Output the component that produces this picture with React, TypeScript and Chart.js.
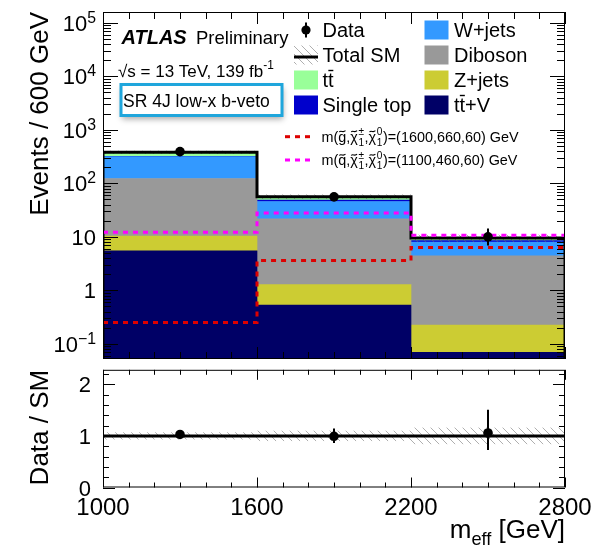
import React, { useEffect, useRef } from 'react';
import { Chart, registerables } from 'chart.js';

Chart.register(...registerables);

const FONT = '"Liberation Sans", Arial, Helvetica, sans-serif';

// m_eff binning (GeV)
const binEdges = [1000, 1600, 2200, 2800];
const binCenters = [1300, 1900, 2500];

// Background yields per bin, bottom of the stack first
const ttVYield = [5.5, 0.53, 0.069];
const zJetsYield = [4.8, 0.75, 0.156];
const dibosonYield = [113, 20.4, 4.2];
const wJetsYield = [192, 24.1, 3.6];
const singleTopYield = [6, 2.7, 0.45];
const ttbarYield = [60, 8, 1.0];

// Relative uncertainty on the total SM prediction
const totalRelUnc = [0.07, 0.1, 0.16];

// Observed events with asymmetric Poisson errors
const dataCounts = [392, 56, 10];
const dataErrLow = [19.3, 7.4, 3.1];
const dataErrHigh = [20.3, 8.5, 4.27];

// Signal benchmark yields
const sigGluinoYield = [0.25, 3.6, 6.3];
const sigSquarkYield = [12.2, 28, 10.7];

// Axis ticks
const yDecades = [-1, 0, 1, 2, 3, 4, 5];
const xTickValues = [1000, 1600, 2200, 2800];
const ratioTickValues = [0, 1, 2];

const bkgNames = ['tt\u0304+V', 'Z+jets', 'Diboson', 'W+jets', 'Single top', 'tt\u0304'];
const bkgColors = ['#000066', '#cccc33', '#999999', '#3399ff', '#0000cc', '#99ff99'];
const bkgYields = [ttVYield, zJetsYield, dibosonYield, wJetsYield, singleTopYield, ttbarYield];

const totalSM = binCenters.map((_, i) => bkgYields.reduce((s, arr) => s + arr[i], 0));

// Layout
const W = 594;
const MAIN_H = 365;
const RATIO_H = 180;
const PLOT_L = 103;
const PLOT_R = 565;
const MAIN_T = 12;
const MAIN_B = 359;
const RATIO_T = 369;
const RATIO_B = 487.5;

const Y_MIN = 0.052;
const Y_MAX = 1.6e5;
const R_MIN = 0;
const R_MAX = 2.28;

const LINE_COUNT = 4; // data, two signals, total SM — drawn above the bars
const HATCH_COLOR = 'rgba(110,110,110,0.55)';

type Part = {
  t?: string;
  sup?: string;
  sub?: string;
  scale?: number;
  rise?: number;
  bold?: boolean;
  italic?: boolean;
  accent?: 'bar' | 'tilde';
};

function fontFor(size: number, p: Part) {
  return `${p.italic ? 'italic ' : ''}${p.bold ? 'bold ' : ''}${size}px ${FONT}`;
}

function partWidth(ctx: CanvasRenderingContext2D, p: Part, base: number) {
  if (p.sup !== undefined || p.sub !== undefined) {
    ctx.font = fontFor(base * 0.7, p);
    return Math.max(ctx.measureText(p.sup || '').width, ctx.measureText(p.sub || '').width) + base * 0.08;
  }
  ctx.font = fontFor(base * (p.scale || 1), p);
  return ctx.measureText(p.t || '').width;
}

function drawRich(
  ctx: CanvasRenderingContext2D,
  parts: Part[],
  x: number,
  y: number,
  base: number,
  align: 'left' | 'right' | 'center' = 'left'
) {
  const widths = parts.map((p) => partWidth(ctx, p, base));
  const total = widths.reduce((a, b) => a + b, 0);
  let cx = align === 'right' ? x - total : align === 'center' ? x - total / 2 : x;
  ctx.textAlign = 'left';
  ctx.textBaseline = 'alphabetic';
  parts.forEach((p, i) => {
    if (p.sup !== undefined || p.sub !== undefined) {
      ctx.font = fontFor(base * 0.7, p);
      if (p.sup) ctx.fillText(p.sup, cx + base * 0.04, y - base * 0.42);
      if (p.sub) ctx.fillText(p.sub, cx + base * 0.04, y + base * 0.28);
    } else {
      const size = base * (p.scale || 1);
      const yy = y - (p.rise || 0) * base;
      ctx.font = fontFor(size, p);
      ctx.fillText(p.t || '', cx, yy);
      const w = widths[i];
      if (p.accent === 'bar') {
        ctx.save();
        ctx.strokeStyle = ctx.fillStyle as string;
        ctx.lineWidth = size * 0.07;
        ctx.beginPath();
        ctx.moveTo(cx + w * 0.05, yy - size * 0.8);
        ctx.lineTo(cx + w * 0.95, yy - size * 0.8);
        ctx.stroke();
        ctx.restore();
      } else if (p.accent === 'tilde') {
        ctx.save();
        ctx.strokeStyle = ctx.fillStyle as string;
        ctx.lineWidth = size * 0.07;
        const yc = yy - size * 0.7;
        ctx.beginPath();
        ctx.moveTo(cx + w * 0.12, yc + size * 0.04);
        ctx.bezierCurveTo(cx + w * 0.35, yc - size * 0.1, cx + w * 0.6, yc + size * 0.12, cx + w * 0.9, yc - size * 0.05);
        ctx.stroke();
        ctx.restore();
      }
    }
    cx += widths[i];
  });
  return total;
}

function nameParts(name: string): Part[] {
  if (name.startsWith('tt\u0304')) {
    const rest = name.slice(3);
    const parts: Part[] = [{ t: 't' }, { t: 't', accent: 'bar' }];
    if (rest) parts.push({ t: rest });
    return parts;
  }
  return [{ t: name }];
}

function makeHatch(ctx: CanvasRenderingContext2D, color: string) {
  const c = document.createElement('canvas');
  c.width = 8;
  c.height = 8;
  const g = c.getContext('2d')!;
  g.strokeStyle = color;
  g.lineWidth = 1;
  g.beginPath();
  g.moveTo(-1, -1);
  g.lineTo(9, 9);
  g.moveTo(-1, 7);
  g.lineTo(1, 9);
  g.moveTo(7, -1);
  g.lineTo(9, 1);
  g.stroke();
  return ctx.createPattern(c, 'repeat')!;
}

// Histogram outline: flat across each bin, vertical steps at the inner edges
function histOutline(vals: number[], floor?: number) {
  const pts: { x: number; y: number }[] = [];
  const last = binEdges.length - 1;
  if (floor !== undefined) pts.push({ x: binEdges[0], y: floor });
  pts.push({ x: binEdges[0], y: vals[0] });
  for (let i = 1; i < last; i++) {
    pts.push({ x: binEdges[i], y: vals[i - 1] });
    pts.push({ x: binEdges[i], y: vals[i] });
  }
  pts.push({ x: binEdges[last], y: vals[vals.length - 1] });
  if (floor !== undefined) pts.push({ x: binEdges[last], y: floor });
  return pts;
}

function drawXTicks(ctx: CanvasRenderingContext2D, x: any, area: any, majorLen: number, minorLen: number) {
  ctx.beginPath();
  for (let v = binEdges[0]; v <= binEdges[binEdges.length - 1]; v += 100) {
    const px = Math.round(x.getPixelForValue(v)) + 0.5;
    const len = xTickValues.includes(v) ? majorLen : minorLen;
    ctx.moveTo(px, area.bottom);
    ctx.lineTo(px, area.bottom - len);
    ctx.moveTo(px, area.top);
    ctx.lineTo(px, area.top + len);
  }
  ctx.stroke();
}

function drawErrorBars(ctx: CanvasRenderingContext2D, x: any, y: any, vals: number[], lo: number[], hi: number[]) {
  ctx.save();
  ctx.strokeStyle = '#000';
  ctx.lineWidth = 2;
  ctx.beginPath();
  vals.forEach((v, i) => {
    const px = x.getPixelForValue(binCenters[i]);
    ctx.moveTo(px, y.getPixelForValue(v + hi[i]));
    ctx.lineTo(px, y.getPixelForValue(v - lo[i]));
  });
  ctx.stroke();
  ctx.restore();
}

const mainDecor = {
  id: 'mainDecor',
  afterDatasetDraw(chart: any, args: any) {
    if (args.index !== LINE_COUNT) return;
    const { ctx, scales } = chart;
    const { x, y } = scales;
    ctx.save();
    ctx.fillStyle = makeHatch(ctx, HATCH_COLOR);
    totalSM.forEach((t: number, i: number) => {
      const x0 = x.getPixelForValue(binEdges[i]);
      const x1 = x.getPixelForValue(binEdges[i + 1]);
      const y0 = y.getPixelForValue(t * (1 + totalRelUnc[i]));
      const y1 = y.getPixelForValue(t * (1 - totalRelUnc[i]));
      ctx.fillRect(x0, y0, x1 - x0, y1 - y0);
    });
    ctx.restore();
  },
  afterDraw(chart: any) {
    const { ctx, chartArea: area, scales } = chart;
    const { x, y } = scales;
    ctx.save();

    drawErrorBars(ctx, x, y, dataCounts, dataErrLow, dataErrHigh);

    // frame and inward ticks
    ctx.strokeStyle = '#000';
    ctx.lineWidth = 1;
    ctx.strokeRect(area.left + 0.5, area.top + 0.5, area.right - area.left - 1, area.bottom - area.top - 1);
    drawXTicks(ctx, x, area, 12, 7);
    ctx.beginPath();
    for (let e = -2; e <= 5; e++) {
      for (let m = 1; m <= 9; m++) {
        const v = m * Math.pow(10, e);
        if (v < Y_MIN || v > Y_MAX) continue;
        const py = Math.round(y.getPixelForValue(v)) + 0.5;
        const len = m === 1 ? 15 : 8;
        ctx.moveTo(area.left, py);
        ctx.lineTo(area.left + len, py);
        ctx.moveTo(area.right, py);
        ctx.lineTo(area.right - len, py);
      }
    }
    ctx.stroke();

    // y tick labels
    ctx.fillStyle = '#000';
    yDecades.forEach((e) => {
      const py = y.getPixelForValue(Math.pow(10, e));
      const parts: Part[] =
        e === 0
          ? [{ t: '1' }]
          : e === 1
          ? [{ t: '10' }]
          : [{ t: '10' }, { t: e < 0 ? '\u2212' + -e : String(e), scale: 0.72, rise: 0.36 }];
      drawRich(ctx, parts, 96, py + 8, 22, 'right');
    });

    // y title
    ctx.save();
    ctx.translate(48, area.top);
    ctx.rotate(-Math.PI / 2);
    ctx.font = `26px ${FONT}`;
    ctx.textAlign = 'right';
    ctx.textBaseline = 'alphabetic';
    ctx.fillText('Events / 600 GeV', 0, 0);
    ctx.restore();

    // experiment label
    ctx.font = `italic bold 20px ${FONT}`;
    ctx.textAlign = 'left';
    ctx.fillText('ATLAS', 121.5, 44);
    ctx.font = `18.5px ${FONT}`;
    ctx.fillText('Preliminary', 196, 44);
    drawRich(ctx, [{ t: '\u221As = 13 TeV, 139 fb' }, { t: '-1', scale: 0.7, rise: 0.42 }], 118, 76.5, 17);

    // region box
    ctx.save();
    ctx.shadowColor = 'rgba(0,0,0,0.35)';
    ctx.shadowBlur = 6;
    ctx.shadowOffsetX = 1;
    ctx.shadowOffsetY = 3;
    ctx.fillStyle = '#fff';
    ctx.fillRect(121, 84.5, 161, 31);
    ctx.restore();
    ctx.strokeStyle = '#1fa6dc';
    ctx.lineWidth = 3;
    ctx.strokeRect(121, 84.5, 161, 31);
    ctx.fillStyle = '#000';
    ctx.font = `17.5px ${FONT}`;
    ctx.fillText('SR 4J low-x b-veto', 123, 106.5);

    // legend
    const rows = [36.5, 61.5, 86.5, 111.5];
    const col1Box = 294;
    const col1Text = 322.5;
    const col2Box = 424.5;
    const col2Text = 454;
    const boxW = 24;
    const boxH = 19;
    // Data marker
    ctx.strokeStyle = '#000';
    ctx.lineWidth = 2;
    ctx.beginPath();
    ctx.moveTo(col1Box + boxW / 2, rows[0] - 14);
    ctx.lineTo(col1Box + boxW / 2, rows[0] + 1);
    ctx.stroke();
    ctx.beginPath();
    ctx.arc(col1Box + boxW / 2, rows[0] - 6.5, 4.6, 0, Math.PI * 2);
    ctx.fill();
    drawRich(ctx, [{ t: 'Data' }], col1Text, rows[0], 20);
    // Total SM
    ctx.fillStyle = makeHatch(ctx, HATCH_COLOR);
    ctx.fillRect(col1Box, rows[1] - 16, boxW, boxH);
    ctx.strokeStyle = '#000';
    ctx.lineWidth = 3;
    ctx.beginPath();
    ctx.moveTo(col1Box, rows[1] - 4.5);
    ctx.lineTo(col1Box + boxW, rows[1] - 4.5);
    ctx.stroke();
    ctx.fillStyle = '#000';
    drawRich(ctx, [{ t: 'Total SM' }], col1Text, rows[1], 20);
    // stacked backgrounds
    const legendSlots = [
      { idx: 5, box: col1Box, text: col1Text, row: 2 },
      { idx: 4, box: col1Box, text: col1Text, row: 3 },
      { idx: 3, box: col2Box, text: col2Text, row: 0 },
      { idx: 2, box: col2Box, text: col2Text, row: 1 },
      { idx: 1, box: col2Box, text: col2Text, row: 2 },
      { idx: 0, box: col2Box, text: col2Text, row: 3 },
    ];
    legendSlots.forEach((s) => {
      ctx.fillStyle = bkgColors[s.idx];
      ctx.fillRect(s.box, rows[s.row] - 16, boxW, boxH);
      ctx.fillStyle = '#000';
      drawRich(ctx, nameParts(bkgNames[s.idx]), s.text, rows[s.row], 20);
    });
    // signal entries
    const sigRows = [
      { color: '#dd0000', y: 136.7, base: 141.5, sparticle: 'g', masses: '=(1600,660,60) GeV' },
      { color: '#ff00ff', y: 160, base: 165, sparticle: 'q', masses: '=(1100,460,60) GeV' },
    ];
    sigRows.forEach((r) => {
      ctx.strokeStyle = r.color;
      ctx.lineWidth = 3;
      ctx.setLineDash([5, 5]);
      ctx.beginPath();
      ctx.moveTo(285, r.y);
      ctx.lineTo(312, r.y);
      ctx.stroke();
      ctx.setLineDash([]);
      ctx.fillStyle = '#000';
      drawRich(
        ctx,
        [
          { t: 'm(' },
          { t: r.sparticle, accent: 'tilde' },
          { t: ',' },
          { t: '\u03C7', accent: 'tilde' },
          { sup: '\u00B1', sub: '1' },
          { t: ',' },
          { t: '\u03C7', accent: 'tilde' },
          { sup: '0', sub: '1' },
          { t: ')' + r.masses },
        ],
        321.5,
        r.base,
        14.4
      );
    });

    ctx.restore();
  },
};

const ratioDecor = {
  id: 'ratioDecor',
  beforeDatasetsDraw(chart: any) {
    const { ctx, scales } = chart;
    const { x, y } = scales;
    ctx.save();
    ctx.fillStyle = makeHatch(ctx, HATCH_COLOR);
    totalRelUnc.forEach((u, i) => {
      const x0 = x.getPixelForValue(binEdges[i]);
      const x1 = x.getPixelForValue(binEdges[i + 1]);
      const y0 = y.getPixelForValue(1 + u);
      const y1 = y.getPixelForValue(1 - u);
      ctx.fillRect(x0, y0, x1 - x0, y1 - y0);
    });
    ctx.restore();
  },
  afterDraw(chart: any) {
    const { ctx, chartArea: area, scales } = chart;
    const { x, y } = scales;
    const off = MAIN_H;
    ctx.save();

    const ratio = dataCounts.map((d, i) => d / totalSM[i]);
    drawErrorBars(
      ctx,
      x,
      y,
      ratio,
      dataErrLow.map((e, i) => e / totalSM[i]),
      dataErrHigh.map((e, i) => e / totalSM[i])
    );

    ctx.strokeStyle = '#000';
    ctx.lineWidth = 1;
    ctx.strokeRect(area.left + 0.5, area.top + 0.5, area.right - area.left - 1, area.bottom - area.top - 1);
    drawXTicks(ctx, x, area, 10, 5);
    ctx.beginPath();
    for (let i = 0; i * 0.2 <= R_MAX + 1e-9; i++) {
      const v = i * 0.2;
      const py = Math.round(y.getPixelForValue(v)) + 0.5;
      const len = i % 5 === 0 ? 12 : 6;
      ctx.moveTo(area.left, py);
      ctx.lineTo(area.left + len, py);
      ctx.moveTo(area.right, py);
      ctx.lineTo(area.right - len, py);
    }
    ctx.stroke();

    ctx.fillStyle = '#000';
    ratioTickValues.forEach((v) => {
      drawRich(ctx, [{ t: String(v) }], 91, y.getPixelForValue(v) + 8, 22, 'right');
    });
    xTickValues.forEach((v) => {
      drawRich(ctx, [{ t: String(v) }], x.getPixelForValue(v), 515 - off, 24, 'center');
    });

    ctx.save();
    ctx.translate(48, area.top);
    ctx.rotate(-Math.PI / 2);
    ctx.font = `26px ${FONT}`;
    ctx.textAlign = 'right';
    ctx.textBaseline = 'alphabetic';
    ctx.fillText('Data / SM', 0, 0);
    ctx.restore();

    drawRich(ctx, [{ t: 'm' }, { t: 'eff', scale: 0.7, rise: -0.25 }, { t: ' [GeV]' }], area.right, 538 - off, 26, 'right');
    ctx.restore();
  },
};

function mainConfig(): any {
  const bars = bkgYields.map((vals, i) => ({
    type: 'bar',
    label: bkgNames[i],
    data: binCenters.map((c, j) => ({ x: c, y: vals[j] })),
    backgroundColor: bkgColors[i],
    borderWidth: 0,
    barPercentage: 1,
    categoryPercentage: 1,
    stack: 'bkg',
  }));
  const outline = (label: string, vals: number[], color: string, dash: number[], stack: string, floor?: number) => ({
    type: 'line',
    label,
    data: histOutline(vals, floor),
    borderColor: color,
    borderWidth: 3,
    borderDash: dash,
    borderCapStyle: 'butt',
    borderJoinStyle: 'miter',
    pointRadius: 0,
    fill: false,
    tension: 0,
    stack,
  });
  return {
    type: 'bar',
    data: {
      datasets: [
        {
          type: 'line',
          label: 'Data',
          data: binCenters.map((c, i) => ({ x: c, y: dataCounts[i] })),
          showLine: false,
          pointRadius: 4.8,
          pointBorderWidth: 0,
          pointBackgroundColor: '#000',
          stack: 'data',
        },
        outline('gluino', sigGluinoYield, '#dd0000', [5, 5], 'sigA'),
        outline('squark', sigSquarkYield, '#ff00ff', [5, 5], 'sigB'),
        outline('Total SM', totalSM, '#000', [], 'total', Y_MIN / 10),
        ...bars,
      ],
    },
    options: {
      responsive: false,
      animation: false,
      devicePixelRatio: 1,
      events: [],
      layout: { padding: { left: PLOT_L, right: W - PLOT_R, top: MAIN_T, bottom: MAIN_H - MAIN_B } },
      plugins: { legend: { display: false }, tooltip: { enabled: false } },
      scales: {
        x: {
          type: 'linear',
          display: false,
          offset: false,
          grid: { offset: false },
          min: binEdges[0],
          max: binEdges[3],
          stacked: true,
          ticks: { stepSize: 600 },
        },
        y: { type: 'logarithmic', display: false, min: Y_MIN, max: Y_MAX, stacked: true },
      },
    },
    plugins: [mainDecor],
  };
}

function ratioConfig(): any {
  return {
    type: 'line',
    data: {
      datasets: [
        {
          label: 'Data / SM',
          data: binCenters.map((c, i) => ({ x: c, y: dataCounts[i] / totalSM[i] })),
          showLine: false,
          pointRadius: 4.8,
          pointBorderWidth: 0,
          pointBackgroundColor: '#000',
        },
        {
          label: 'unity',
          data: [
            { x: binEdges[0], y: 1 },
            { x: binEdges[3], y: 1 },
          ],
          borderColor: '#000',
          borderWidth: 3,
          pointRadius: 0,
        },
      ],
    },
    options: {
      responsive: false,
      animation: false,
      devicePixelRatio: 1,
      events: [],
      layout: {
        padding: { left: PLOT_L, right: W - PLOT_R, top: RATIO_T - MAIN_H, bottom: MAIN_H + RATIO_H - RATIO_B },
      },
      plugins: { legend: { display: false }, tooltip: { enabled: false } },
      scales: {
        x: { type: 'linear', display: false, min: binEdges[0], max: binEdges[3] },
        y: { type: 'linear', display: false, min: R_MIN, max: R_MAX },
      },
    },
    plugins: [ratioDecor],
  };
}

export default function App() {
  const mainRef = useRef<HTMLCanvasElement>(null);
  const ratioRef = useRef<HTMLCanvasElement>(null);

  useEffect(() => {
    const main = new Chart(mainRef.current!, mainConfig());
    const ratio = new Chart(ratioRef.current!, ratioConfig());
    return () => {
      main.destroy();
      ratio.destroy();
    };
  }, []);

  return (
    <div style={{ position: 'fixed', left: 0, top: 0, width: W, height: MAIN_H + RATIO_H, background: '#fff' }}>
      <canvas
        ref={mainRef}
        width={W}
        height={MAIN_H}
        style={{ position: 'absolute', left: 0, top: 0, width: W, height: MAIN_H }}
      />
      <canvas
        ref={ratioRef}
        width={W}
        height={RATIO_H}
        style={{ position: 'absolute', left: 0, top: MAIN_H, width: W, height: RATIO_H }}
      />
    </div>
  );
}
